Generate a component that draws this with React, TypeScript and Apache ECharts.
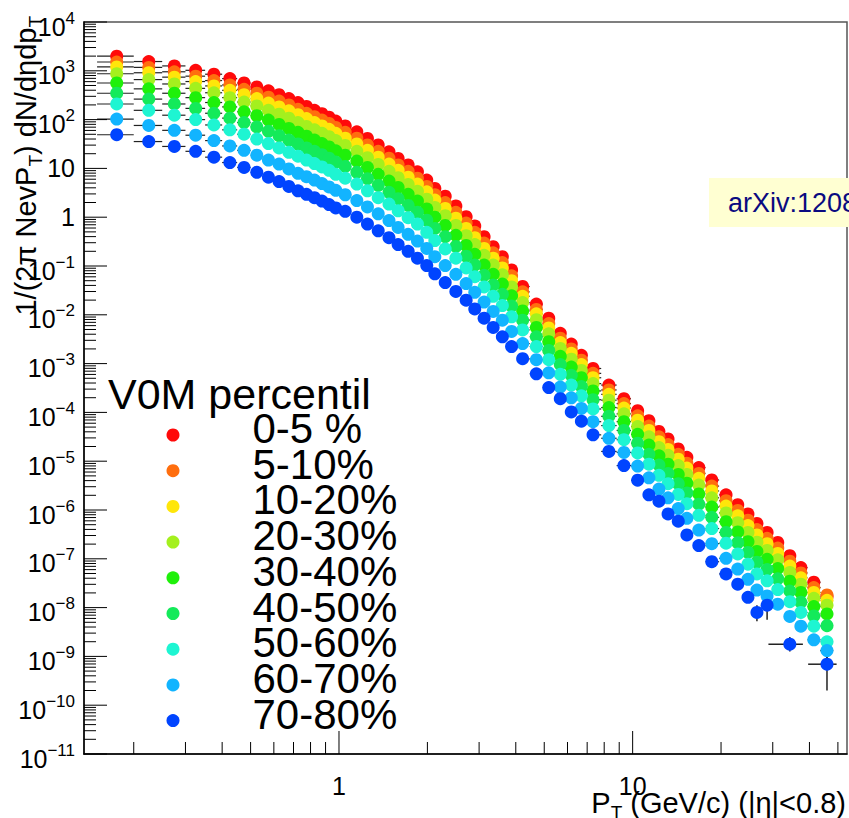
import React, { useEffect, useRef } from 'react';
import * as echarts from 'echarts';

const FONT = "'Liberation Sans', Arial, Helvetica, sans-serif";

// transverse momentum bin centres (GeV/c)
const PT = [0.175, 0.225, 0.275, 0.325, 0.375, 0.425, 0.475, 0.525, 0.575, 0.625, 0.675, 0.725, 0.775, 0.825, 0.875, 0.925, 0.975,
  1.05, 1.15, 1.25, 1.36, 1.48, 1.59, 1.72, 1.85, 1.99,
  2.12, 2.30, 2.50, 2.71, 2.90, 3.12, 3.35, 3.60, 3.87, 4.22,
  4.70, 5.18, 5.67, 6.18, 6.69, 7.33, 8.3, 9.34, 10.4, 11.36,
  12.29, 13.2, 14.3, 15.3, 16.8, 18.6, 20.8, 22.8, 24.7, 26.5,
  28.7, 31.2, 34.3, 37.4, 41.4, 45.9];

// log10 of the yield, one array per V0M class
const LOG_0_5 = [3.30, 3.19, 3.10, 3.01, 2.93, 2.84, 2.75, 2.67, 2.59, 2.51, 2.43, 2.35, 2.27, 2.19, 2.12, 2.05, 1.97,
  1.87, 1.75, 1.615, 1.48, 1.34, 1.205, 1.07, 0.93, 0.76,
  0.59, 0.43, 0.23, 0.01, -0.18, -0.40, -0.605, -0.81, -1.08, -1.42,
  -1.78, -2.07, -2.38, -2.60, -2.83, -3.10, -3.44, -3.72, -3.965, -4.17,
  -4.39, -4.545, -4.75, -4.92, -5.13, -5.385, -5.69, -5.89, -6.08, -6.275,
  -6.46, -6.665, -6.935, -7.18, -7.48, -7.78];
const LOG_5_10 = [3.18, 3.07, 2.98, 2.89, 2.80, 2.71, 2.62, 2.54, 2.46, 2.38, 2.30, 2.21, 2.13, 2.06, 1.99, 1.92, 1.84,
  1.74, 1.62, 1.48, 1.35, 1.21, 1.07, 0.94, 0.80, 0.63,
  0.46, 0.30, 0.10, -0.12, -0.31, -0.53, -0.73, -0.93, -1.20, -1.53,
  -1.89, -2.18, -2.48, -2.70, -2.93, -3.20, -3.54, -3.82, -4.07, -4.28,
  -4.50, -4.66, -4.86, -5.04, -5.25, -5.51, -5.81, -6.01, -6.21, -6.40,
  -6.58, -6.78, -7.05, -7.29, -7.59, -7.74];
const LOG_10_20 = [3.08, 2.96, 2.87, 2.78, 2.69, 2.60, 2.51, 2.43, 2.34, 2.26, 2.18, 2.10, 2.02, 1.94, 1.87, 1.80, 1.72,
  1.62, 1.50, 1.37, 1.23, 1.09, 0.96, 0.82, 0.68, 0.52,
  0.35, 0.18, -0.02, -0.23, -0.42, -0.64, -0.84, -1.04, -1.30, -1.62,
  -1.98, -2.27, -2.57, -2.79, -3.02, -3.29, -3.63, -3.91, -4.16, -4.37,
  -4.60, -4.76, -4.96, -5.14, -5.35, -5.61, -5.92, -6.12, -6.32, -6.51,
  -6.69, -6.89, -7.15, -7.39, -7.69, -7.85];
const LOG_20_30 = [2.94, 2.82, 2.73, 2.64, 2.55, 2.45, 2.36, 2.28, 2.19, 2.11, 2.03, 1.94, 1.86, 1.79, 1.72, 1.65, 1.57,
  1.47, 1.35, 1.22, 1.08, 0.94, 0.81, 0.67, 0.53, 0.37,
  0.20, 0.03, -0.17, -0.38, -0.56, -0.78, -0.98, -1.18, -1.43, -1.75,
  -2.10, -2.39, -2.69, -2.91, -3.14, -3.41, -3.75, -4.03, -4.29, -4.50,
  -4.72, -4.88, -5.09, -5.27, -5.49, -5.75, -6.06, -6.26, -6.46, -6.66,
  -6.83, -7.02, -7.28, -7.52, -7.81, -7.95];
const LOG_30_40 = [2.75, 2.63, 2.54, 2.45, 2.35, 2.26, 2.16, 2.08, 1.99, 1.90, 1.82, 1.74, 1.66, 1.58, 1.51, 1.44, 1.36,
  1.27, 1.15, 1.02, 0.88, 0.74, 0.61, 0.47, 0.33, 0.17,
  0.00, -0.17, -0.37, -0.58, -0.76, -0.98, -1.17, -1.37, -1.61, -1.92,
  -2.26, -2.55, -2.85, -3.07, -3.29, -3.56, -3.90, -4.19, -4.45, -4.67,
  -4.89, -5.06, -5.27, -5.45, -5.67, -5.94, -6.24, -6.45, -6.65, -6.85,
  -7.01, -7.20, -7.46, -7.69, -7.98, -8.13];
const LOG_40_50 = [2.54, 2.42, 2.32, 2.23, 2.13, 2.03, 1.94, 1.85, 1.76, 1.67, 1.58, 1.50, 1.42, 1.35, 1.28, 1.21, 1.13,
  1.04, 0.92, 0.79, 0.65, 0.51, 0.38, 0.24, 0.10, -0.06,
  -0.23, -0.40, -0.60, -0.80, -0.98, -1.19, -1.39, -1.58, -1.82, -2.11,
  -2.45, -2.73, -3.02, -3.24, -3.47, -3.74, -4.08, -4.37, -4.63, -4.86,
  -5.08, -5.25, -5.46, -5.65, -5.88, -6.15, -6.46, -6.67, -6.87, -7.07,
  -7.22, -7.41, -7.66, -7.89, -8.17, -8.37];
const LOG_50_60 = [2.32, 2.19, 2.09, 2.00, 1.89, 1.79, 1.70, 1.60, 1.51, 1.42, 1.33, 1.25, 1.17, 1.10, 1.03, 0.96, 0.88,
  0.80, 0.68, 0.54, 0.40, 0.27, 0.13, -0.01, -0.14, -0.31,
  -0.48, -0.65, -0.84, -1.04, -1.22, -1.43, -1.62, -1.81, -2.04, -2.31,
  -2.65, -2.92, -3.22, -3.44, -3.66, -3.93, -4.27, -4.56, -4.83, -5.06,
  -5.29, -5.46, -5.68, -5.87, -6.11, -6.38, -6.68, -6.90, -7.11, -7.31,
  -7.45, -7.63, -7.88, -8.10, -8.38, -8.70];
const LOG_60_70 = [2.01, 1.88, 1.78, 1.68, 1.57, 1.46, 1.37, 1.27, 1.17, 1.09, 0.99, 0.90, 0.83, 0.76, 0.69, 0.62, 0.55,
  0.46, 0.34, 0.21, 0.07, -0.07, -0.21, -0.35, -0.49, -0.64,
  -0.81, -0.99, -1.17, -1.36, -1.54, -1.74, -1.93, -2.11, -2.34, -2.59,
  -2.92, -3.19, -3.48, -3.70, -3.92, -4.19, -4.53, -4.82, -5.10, -5.34,
  -5.57, -5.75, -5.97, -6.17, -6.41, -6.69, -6.99, -7.21, -7.42, -7.64,
  -7.76, -7.93, -8.18, -8.38, -8.66, -8.88];
const LOG_70_80 = [1.69, 1.55, 1.45, 1.35, 1.23, 1.12, 1.02, 0.92, 0.82, 0.73, 0.63, 0.54, 0.47, 0.40, 0.33, 0.26, 0.19,
  0.12, 0.00, -0.14, -0.28, -0.42, -0.56, -0.70, -0.84, -0.99,
  -1.16, -1.34, -1.52, -1.70, -1.88, -2.07, -2.26, -2.45, -2.65, -2.90,
  -3.21, -3.49, -3.72, -3.99, -4.18, -4.46, -4.80, -5.09, -5.39, -5.69,
  -5.82, -6.08, -6.23, -6.51, -6.73, -7.06, -7.31, -7.52, -7.79, -8.10,
  -7.95, null, -8.75, null, null, -9.16];

// error bars visible at the tail: [series index, point index, log10 low, log10 high, pT low, pT high]
const TAIL_ERRORS = [
  [8, 55, -8.28, -7.95, 25.6, 27.6],
  [8, 56, -8.25, -7.72, 27.6, 29.9],
  [8, 58, -8.90, -8.60, 29.0, 38.0],
  [8, 61, -9.70, -8.95, 39.6, 49.5],
  [7, 61, -9.05, -8.72, 43.6, 48.2],
];

const SERIES_NAMES = ['0-5 %', '5-10%', '10-20%', '20-30%', '30-40%', '40-50%', '50-60%', '60-70%', '70-80%'];
const SERIES_LOGS: (number | null)[][] = [LOG_0_5, LOG_5_10, LOG_10_20, LOG_20_30, LOG_30_40, LOG_40_50, LOG_50_60, LOG_60_70, LOG_70_80];
const SERIES_COLORS = ['#ff0a0a', '#ff6e0e', '#ffe60a', '#a4f01e', '#1ff00a', '#14ea5a', '#1ef5d2', '#12b4ff', '#0044ff'];
const LEGEND_TITLE = 'V0M percentil';

// axes
const X_MIN = 0.1354;
const X_MAX = 53.7;
const Y_MIN = 1e-11;
const Y_MAX = 1e4;
const X_MAJOR_TICKS = [1, 10];
const X_TICK_LABELS = ['1', '10'];
const X_MINOR_TICKS = [0.2, 0.3, 0.4, 0.5, 0.6, 0.7, 0.8, 0.9, 2, 3, 4, 5, 6, 7, 8, 9, 20, 30, 40, 50];
const Y_DECADES = [-11, -10, -9, -8, -7, -6, -5, -4, -3, -2, -1, 0, 1, 2, 3, 4];
const Y_MINOR_MULT = [2, 3, 4, 5, 6, 7, 8, 9];

const LABEL_RICH = {
  b: { fontSize: 25, lineHeight: 25, fontFamily: FONT, fill: '#000' },
  e: { fontSize: 25, lineHeight: 25, fontFamily: FONT, fill: '#000', padding: [9, 0, 0, 0] },
  s: { fontSize: 17, lineHeight: 20, fontFamily: FONT, fill: '#000', verticalAlign: 'top' },
};

const TITLE_RICH = {
  a: { fontSize: 29, lineHeight: 29, fontFamily: FONT, fill: '#000', verticalAlign: 'top' },
  s: { fontSize: 19, lineHeight: 19, fontFamily: FONT, fill: '#000', verticalAlign: 'top', padding: [14, 0, 0, 0] },
};

function buildOption(): any {
  const n = PT.length;
  const lo = PT.map((x, i) => (i === 0 ? x - (PT[1] - PT[0]) / 2 : (PT[i - 1] + x) / 2));
  const hi = PT.map((x, i) => (i === n - 1 ? x + (x - PT[n - 2]) / 2 : (x + PT[i + 1]) / 2));

  const scatter = SERIES_NAMES.map((name, k) => ({
    name,
    type: 'scatter',
    symbol: 'circle',
    symbolSize: 13,
    silent: true,
    z: 4,
    itemStyle: { color: SERIES_COLORS[k], opacity: 1 },
    data: PT.map((x, i) => {
      const v = SERIES_LOGS[k][i];
      return v == null ? null : [x, Math.pow(10, v)];
    }).filter((d) => d != null),
  }));

  const xerr: number[][] = [];
  SERIES_LOGS.forEach((arr) => arr.forEach((v, i) => {
    if (v != null) xerr.push([lo[i], hi[i], Math.pow(10, v)]);
  }));

  const tailErr = TAIL_ERRORS.map(([s, i, yl, yh, xl, xh]) => [PT[i], Math.pow(10, SERIES_LOGS[s][i] as number), Math.pow(10, yl), Math.pow(10, yh), xl, xh]);

  const yMajor = Y_DECADES.map((e) => Math.pow(10, e));
  const yMinor: number[] = [];
  Y_DECADES.slice(0, -1).forEach((e) => Y_MINOR_MULT.forEach((m) => yMinor.push(m * Math.pow(10, e))));

  const yTickData = [...yMajor.map((v) => [X_MIN, v, 23]), ...yMinor.map((v) => [X_MIN, v, 12])];
  const xTickData = [...X_MAJOR_TICKS.map((v) => [v, Y_MIN, 23]), ...X_MINOR_TICKS.map((v) => [v, Y_MIN, 12])];

  const tickStyle = { stroke: '#000', lineWidth: 1 };

  const legendGraphics: any[] = [
    { type: 'text', left: 108, top: 372, z: 10, style: { text: LEGEND_TITLE, fontSize: 43, fontFamily: FONT, fill: '#000' } },
  ];
  SERIES_NAMES.forEach((name, k) => {
    legendGraphics.push({ type: 'circle', z: 10, shape: { cx: 173, cy: 435 + k * 35.7, r: 6.5 }, style: { fill: SERIES_COLORS[k] } });
    legendGraphics.push({
      type: 'text', z: 10, x: 252.5, y: 428.5 + k * 35.7,
      style: { text: name, fontSize: 42, fontFamily: FONT, fill: '#000', verticalAlign: 'middle', align: 'left' },
    });
  });

  const blueIdx = SERIES_NAMES.length - 1;

  return {
    animation: false,
    backgroundColor: '#fff',
    textStyle: { fontFamily: FONT },
    grid: { left: 84, top: 22, right: 2, bottom: 64, show: true, borderColor: '#555', borderWidth: 1.5, backgroundColor: 'transparent' },
    xAxis: {
      type: 'log', logBase: 10, min: X_MIN, max: X_MAX,
      axisLine: { show: true, onZero: false, lineStyle: { color: '#000', width: 1.5 } },
      axisTick: { show: false }, axisLabel: { show: false }, splitLine: { show: false }, minorTick: { show: false },
    },
    yAxis: {
      type: 'log', logBase: 10, min: Y_MIN, max: Y_MAX,
      axisLine: { show: true, onZero: false, lineStyle: { color: '#000', width: 1.5 } },
      axisTick: { show: false }, axisLabel: { show: false }, splitLine: { show: false }, minorTick: { show: false },
    },
    graphic: [
      ...legendGraphics,
      {
        type: 'text', x: 26, y: 16, rotation: Math.PI / 2, z: 10,
        style: { text: '{a|1/(2\u03c0 NevP}{s|T}{a|) dN/d\u03b7dp}{s|T}', align: 'right', verticalAlign: 'middle', rich: TITLE_RICH },
      },
      {
        type: 'text', x: 846, y: 803, z: 10,
        style: { text: '{a|P}{s|T}{a| (GeV/c) (|\u03b7|<0.8)}', align: 'right', verticalAlign: 'middle', rich: TITLE_RICH },
      },
      { type: 'rect', z: 20, shape: { x: 709, y: 178, width: 150, height: 49 }, style: { fill: '#ffffd2' } },
      {
        type: 'text', z: 21, x: 728, y: 202.5,
        style: { text: 'arXiv:1208', fontSize: 27, fontFamily: FONT, fill: '#0a0a80', verticalAlign: 'middle', align: 'left' },
      },
    ],
    series: [
      {
        type: 'custom', name: 'xerr', silent: true, z: 3, clip: false,
        encode: { x: [0, 1], y: 2 },
        data: xerr,
        renderItem: (_p: any, api: any) => {
          const a = api.coord([api.value(0), api.value(2)]);
          const b = api.coord([api.value(1), api.value(2)]);
          return { type: 'line', shape: { x1: a[0], y1: a[1], x2: b[0], y2: b[1] }, style: { stroke: '#222', lineWidth: 1.2 } };
        },
      },
      ...scatter.slice(0, blueIdx),
      {
        type: 'custom', name: 'tailErr', silent: true, z: 4, clip: false,
        encode: { x: [0, 4, 5], y: [1, 2, 3] },
        data: tailErr,
        renderItem: (_p: any, api: any) => {
          const c = api.coord([api.value(0), api.value(1)]);
          const yl = api.coord([api.value(0), api.value(2)]);
          const yh = api.coord([api.value(0), api.value(3)]);
          const xl = api.coord([api.value(4), api.value(1)]);
          const xh = api.coord([api.value(5), api.value(1)]);
          const st = { stroke: '#222', lineWidth: 1.5 };
          return {
            type: 'group',
            children: [
              { type: 'line', shape: { x1: c[0], y1: yl[1], x2: c[0], y2: yh[1] }, style: st },
              { type: 'line', shape: { x1: xl[0], y1: c[1], x2: xh[0], y2: c[1] }, style: st },
            ],
          };
        },
      },
      scatter[blueIdx],
      {
        type: 'custom', name: 'yticks', silent: true, z: 6, clip: false,
        data: yTickData,
        renderItem: (_p: any, api: any) => {
          const p = api.coord([api.value(0), api.value(1)]);
          const len = api.value(2);
          return { type: 'line', shape: { x1: p[0], y1: p[1], x2: p[0] + len, y2: p[1] }, style: tickStyle };
        },
      },
      {
        type: 'custom', name: 'xticks', silent: true, z: 6, clip: false,
        data: xTickData,
        renderItem: (_p: any, api: any) => {
          const p = api.coord([api.value(0), api.value(1)]);
          const len = api.value(2);
          return { type: 'line', shape: { x1: p[0], y1: p[1], x2: p[0], y2: p[1] - len }, style: tickStyle };
        },
      },
      {
        type: 'custom', name: 'ylabels', silent: true, z: 6, clip: false,
        data: Y_DECADES.map((e) => [X_MIN, Math.pow(10, e), e]),
        renderItem: (_p: any, api: any) => {
          const p = api.coord([api.value(0), api.value(1)]);
          const e = api.value(2);
          let text: string;
          if (e === 0) text = '{b|1}';
          else if (e === 1) text = '{b|10}';
          else text = '{e|10}{s|' + (e < 0 ? '\u2212' + -e : String(e)) + '}';
          return { type: 'text', x: p[0] - 9, y: p[1], style: { text, align: 'right', verticalAlign: 'middle', rich: LABEL_RICH } };
        },
      },
      {
        type: 'custom', name: 'xlabels', silent: true, z: 6, clip: false,
        data: X_MAJOR_TICKS.map((v, i) => [v, Y_MIN, i]),
        renderItem: (_p: any, api: any) => {
          const p = api.coord([api.value(0), api.value(1)]);
          const text = '{b|' + X_TICK_LABELS[api.value(2)] + '}';
          return { type: 'text', x: p[0], y: p[1] + 32, style: { text, align: 'center', verticalAlign: 'middle', rich: LABEL_RICH } };
        },
      },
    ],
  };
}

export default function App() {
  const ref = useRef<HTMLDivElement>(null);
  useEffect(() => {
    if (!ref.current) return;
    const chart = echarts.init(ref.current, null, { renderer: 'svg' });
    chart.setOption(buildOption());
    return () => chart.dispose();
  }, []);
  return <div ref={ref} style={{ position: 'fixed', left: 0, top: 0, width: 849, height: 818, background: '#fff' }} />;
}
